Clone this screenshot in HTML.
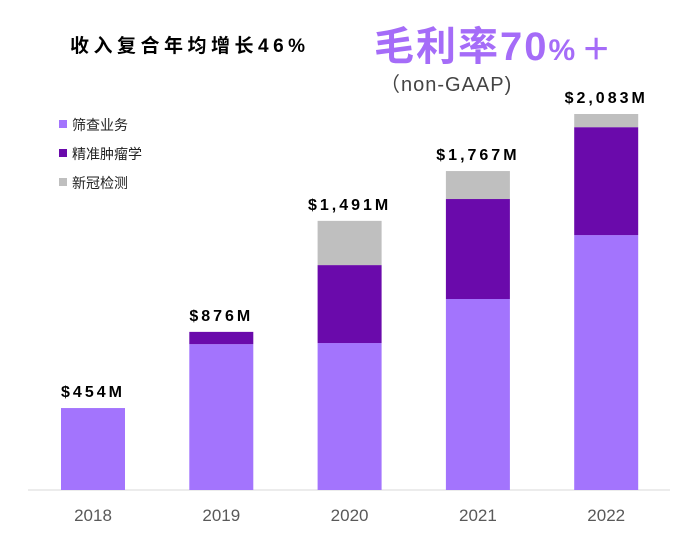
<!DOCTYPE html>
<html><head><meta charset="utf-8">
<style>
body{margin:0;width:689px;height:546px;background:#fff;overflow:hidden;font-family:"Liberation Sans","Noto Sans CJK SC",sans-serif;}
</style></head>
<body>
<svg id="chart" width="689" height="546" xmlns="http://www.w3.org/2000/svg">
<text x="70" y="52" font-size="19" font-weight="bold" letter-spacing="4.5" fill="#000" font-family="Liberation Sans, Noto Sans CJK SC, sans-serif">收入复合年均增长46%</text>
<text x="374" y="60" fill="#a56cf8" font-weight="bold" font-family="Liberation Sans, Noto Sans CJK SC, sans-serif"><tspan font-size="40" letter-spacing="2">毛利率70</tspan><tspan font-size="30" letter-spacing="6">%＋</tspan></text>
<text x="380" y="91" font-size="20" letter-spacing="1" fill="#444" font-family="Liberation Sans, Noto Sans CJK SC, sans-serif">（non-GAAP)</text>
<g id="legend"></g>
<line x1="28" y1="490" x2="670" y2="490" stroke="#d9d9d9" stroke-width="1"/>
<g id="bars"></g>
</svg>
<script>
const years=["2018","2019","2020","2021","2022"];
const screening=[454,808,814,1058,1412];
const oncology=[0,68,432,554,598];
const covid=[0,0,245,155,73];
const totals=["$454M","$876M","$1,491M","$1,767M","$2,083M"];
const seriesNames=["筛查业务","精准肿瘤学","新冠检测"];
const colors=["#a374fd","#6a0aab","#bfbfbf"];
const NS="http://www.w3.org/2000/svg";
const base=490, scale=376/2083;
const y=v=>base-v*scale;
const x=i=>61+i*128.3;
const bw=64;
const bars=document.getElementById('bars');
function mk(t,a){const e=document.createElementNS(NS,t);for(const k in a)e.setAttribute(k,a[k]);return e;}
const series=[screening,oncology,covid];
years.forEach((yr,i)=>{
  let acc=0;
  series.forEach((s,j)=>{
    const v=s[i]; if(v<=0)return;
    const r=mk('rect',{x:x(i),y:y(acc+v),width:bw,height:v*scale,fill:colors[j]});
    
    
    bars.appendChild(r); acc+=v;
  });
  const tl=mk('text',{x:x(i)+bw/2,y:y(acc)-11,'text-anchor':'middle','font-size':'16','font-weight':'bold','letter-spacing':'3',fill:'#000'});
  tl.textContent=totals[i];
  
  
  bars.appendChild(tl);
  const xl=mk('text',{x:x(i)+bw/2,y:521,'text-anchor':'middle','font-size':'17',fill:'#595959'});
  xl.textContent=yr;
  
  
  bars.appendChild(xl);
});
const lg=document.getElementById('legend');
seriesNames.forEach((n,j)=>{
  const yy=126+j*29;
  const r=mk('rect',{x:59,y:yy-6,width:8,height:8,fill:colors[j]});
  
  
  lg.appendChild(r);
  const t=mk('text',{x:72,y:yy+4,'font-size':'14',fill:'#222'});
  t.textContent=n;
  
  
  lg.appendChild(t);
});
</script>
</body></html>
